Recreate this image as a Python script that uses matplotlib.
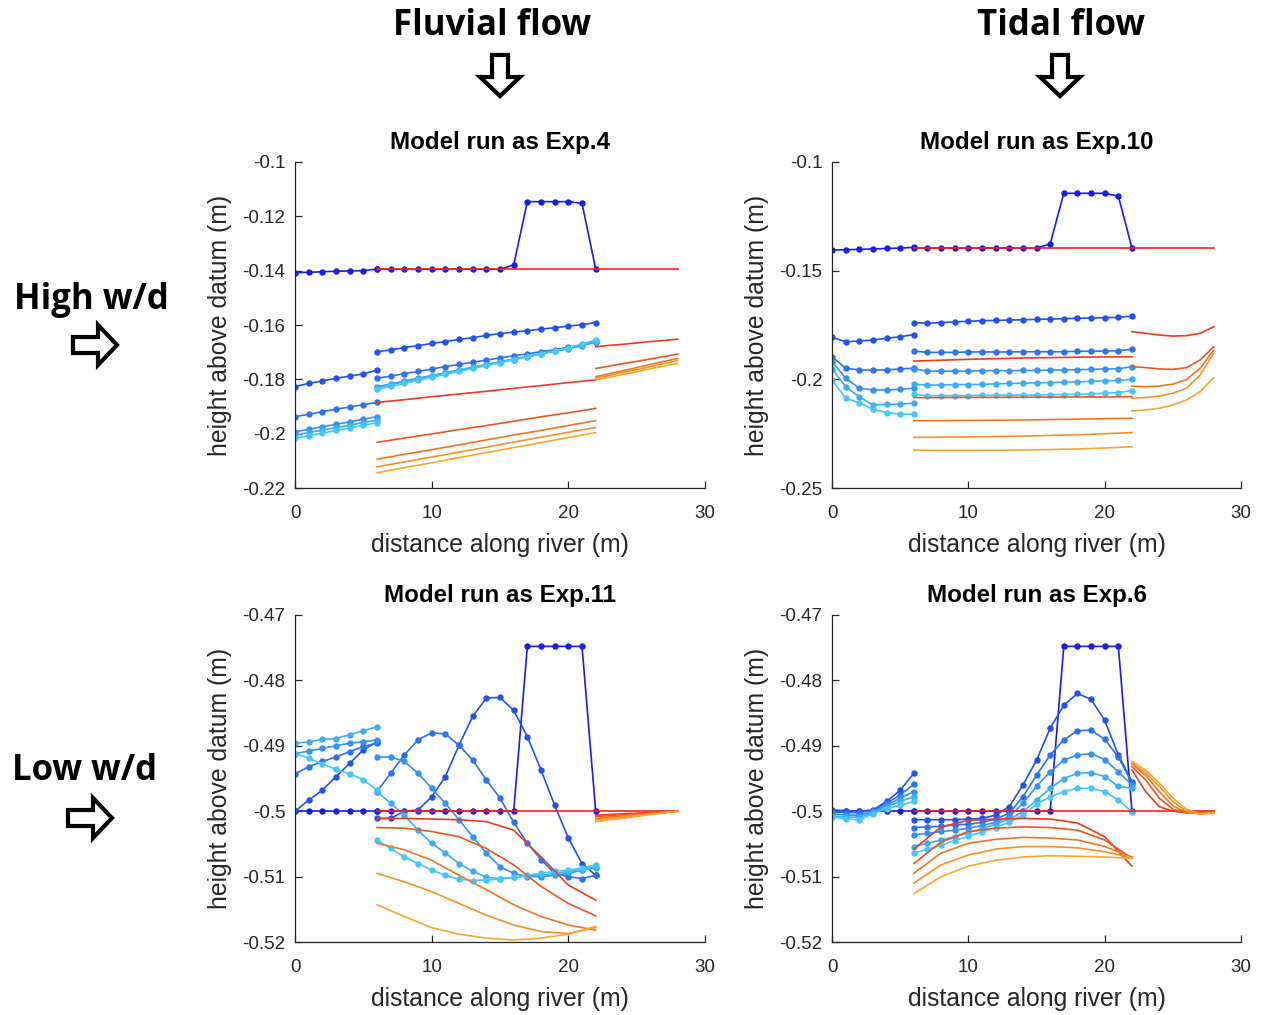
import matplotlib
matplotlib.use("Agg")
import matplotlib.pyplot as plt
from matplotlib.patches import FancyArrow

# ---------------- x grids (m) ----------------
x_up = [0, 1, 2, 3, 4, 5, 6]
x_mid = [6, 7, 8, 9, 10, 11, 12, 13, 14, 15, 16, 17, 18, 19, 20, 21, 22]
x_mid_red = [6, 8, 10, 12, 14, 16, 18, 20, 22]
x_down = [22, 23, 24, 25, 26, 27, 28]

# ---------------- Model run as Exp.4 (top-left) ----------------
tl_blue_up = [
    [-0.1407, -0.1406, -0.1404, -0.1402, -0.1401, -0.1400, -0.1394],
    [-0.1827, -0.1815, -0.1806, -0.1796, -0.1788, -0.1780, -0.1766],
    [-0.1937, -0.1929, -0.1919, -0.1910, -0.1902, -0.1893, -0.1885],
    [-0.1993, -0.1984, -0.1974, -0.1966, -0.1956, -0.1947, -0.1937],
    [-0.2005, -0.1996, -0.1987, -0.1978, -0.1969, -0.1959, -0.1950],
    [-0.2017, -0.2007, -0.1998, -0.1988, -0.1979, -0.1969, -0.1960],
]
tl_blue_mid = [
    [-0.1395, -0.1395, -0.1395, -0.1395, -0.1395, -0.1395, -0.1395, -0.1395, -0.1395, -0.1395,
     -0.1379, -0.1146, -0.1146, -0.1146, -0.1146, -0.1152, -0.1394],
    [-0.1698, -0.1692, -0.1683, -0.1676, -0.1668, -0.1661, -0.1653, -0.1647, -0.1638, -0.1632,
     -0.1626, -0.1621, -0.1615, -0.1610, -0.1604, -0.1599, -0.1591],
    [-0.1796, -0.1788, -0.1779, -0.1771, -0.1762, -0.1753, -0.1745, -0.1737, -0.1729, -0.1721,
     -0.1713, -0.1706, -0.1698, -0.1691, -0.1682, -0.1674, -0.1661],
    [-0.1827, -0.1817, -0.1806, -0.1796, -0.1786, -0.1776, -0.1766, -0.1756, -0.1746, -0.1737,
     -0.1727, -0.1717, -0.1707, -0.1697, -0.1687, -0.1676, -0.1663],
    [-0.1831, -0.1820, -0.1809, -0.1798, -0.1788, -0.1777, -0.1767, -0.1756, -0.1746, -0.1735,
     -0.1725, -0.1715, -0.1705, -0.1695, -0.1685, -0.1673, -0.1660],
    [-0.1837, -0.1826, -0.1815, -0.1804, -0.1793, -0.1782, -0.1771, -0.1760, -0.1749, -0.1739,
     -0.1728, -0.1717, -0.1706, -0.1695, -0.1684, -0.1670, -0.1655],
]
tl_red_mid = [
    [-0.1395, -0.1395, -0.1395, -0.1395, -0.1395, -0.1395, -0.1395, -0.1395, -0.1395],
    [-0.1885, -0.1875, -0.1864, -0.1854, -0.1844, -0.1833, -0.1823, -0.1812, -0.1802],
    [-0.2032, -0.2016, -0.2001, -0.1985, -0.1970, -0.1954, -0.1938, -0.1923, -0.1907],
    [-0.2094, -0.2076, -0.2059, -0.2041, -0.2023, -0.2005, -0.1988, -0.1970, -0.1952],
    [-0.2122, -0.2104, -0.2086, -0.2068, -0.2050, -0.2031, -0.2013, -0.1995, -0.1977],
    [-0.2144, -0.2125, -0.2107, -0.2088, -0.2070, -0.2051, -0.2033, -0.2014, -0.1996],
]
tl_red_down = [
    [-0.1395, -0.1395, -0.1395, -0.1395, -0.1395, -0.1395, -0.1395],
    [-0.1680, -0.1675, -0.1671, -0.1666, -0.1661, -0.1657, -0.1652],
    [-0.1760, -0.1751, -0.1742, -0.1734, -0.1725, -0.1716, -0.1707],
    [-0.1790, -0.1779, -0.1768, -0.1757, -0.1745, -0.1734, -0.1723],
    [-0.1796, -0.1785, -0.1774, -0.1764, -0.1753, -0.1742, -0.1731],
    [-0.1802, -0.1792, -0.1782, -0.1772, -0.1761, -0.1751, -0.1741],
]

# ---------------- Model run as Exp.10 (top-right) ----------------
tr_blue_up = [
    [-0.1405, -0.1404, -0.1402, -0.1400, -0.1398, -0.1396, -0.1393],
    [-0.1807, -0.1827, -0.1824, -0.1819, -0.1811, -0.1804, -0.1794],
    [-0.1896, -0.1949, -0.1957, -0.1957, -0.1957, -0.1952, -0.1949],
    [-0.1919, -0.1995, -0.2041, -0.2049, -0.2049, -0.2046, -0.2041],
    [-0.1952, -0.2034, -0.2080, -0.2118, -0.2115, -0.2114, -0.2110],
    [-0.2003, -0.2087, -0.2107, -0.2138, -0.2153, -0.2160, -0.2160],
]
tr_blue_mid = [
    [-0.1396, -0.1396, -0.1396, -0.1396, -0.1396, -0.1396, -0.1396, -0.1396, -0.1396, -0.1396,
     -0.1377, -0.1144, -0.1144, -0.1144, -0.1144, -0.1157, -0.1396],
    [-0.1739, -0.1742, -0.1739, -0.1736, -0.1733, -0.1730, -0.1729, -0.1727, -0.1726, -0.1724,
     -0.1723, -0.1721, -0.1719, -0.1718, -0.1716, -0.1715, -0.1709],
    [-0.1870, -0.1876, -0.1876, -0.1876, -0.1874, -0.1874, -0.1874, -0.1874, -0.1873, -0.1873,
     -0.1873, -0.1873, -0.1871, -0.1871, -0.1870, -0.1868, -0.1862],
    [-0.1952, -0.1962, -0.1962, -0.1962, -0.1962, -0.1960, -0.1960, -0.1960, -0.1959, -0.1959,
     -0.1957, -0.1957, -0.1956, -0.1954, -0.1952, -0.1951, -0.1942],
    [-0.2023, -0.2026, -0.2026, -0.2024, -0.2024, -0.2023, -0.2021, -0.2019, -0.2018, -0.2016,
     -0.2015, -0.2013, -0.2012, -0.2009, -0.2007, -0.2005, -0.2000],
    [-0.2069, -0.2075, -0.2075, -0.2075, -0.2075, -0.2073, -0.2073, -0.2073, -0.2072, -0.2072,
     -0.2070, -0.2070, -0.2069, -0.2067, -0.2064, -0.2061, -0.2052],
]
tr_red_mid = [
    [-0.1396, -0.1396, -0.1396, -0.1396, -0.1396, -0.1396, -0.1396, -0.1396, -0.1396],
    [-0.1916, -0.1912, -0.1908, -0.1905, -0.1902, -0.1900, -0.1898, -0.1897, -0.1896],
    [-0.2084, -0.2084, -0.2083, -0.2083, -0.2082, -0.2082, -0.2081, -0.2081, -0.2080],
    [-0.2190, -0.2190, -0.2189, -0.2188, -0.2187, -0.2185, -0.2183, -0.2181, -0.2179],
    [-0.2267, -0.2266, -0.2265, -0.2263, -0.2261, -0.2258, -0.2255, -0.2250, -0.2245],
    [-0.2325, -0.2327, -0.2327, -0.2326, -0.2325, -0.2323, -0.2320, -0.2316, -0.2310],
]
tr_red_down = [
    [-0.1396, -0.1396, -0.1396, -0.1396, -0.1396, -0.1396, -0.1396],
    [-0.1781, -0.1788, -0.1796, -0.1801, -0.1799, -0.1788, -0.1758],
    [-0.1942, -0.1946, -0.1952, -0.1954, -0.1946, -0.1911, -0.1850],
    [-0.2031, -0.2034, -0.2031, -0.2022, -0.2001, -0.1949, -0.1865],
    [-0.2087, -0.2084, -0.2077, -0.2064, -0.2041, -0.1980, -0.1880],
    [-0.2146, -0.2141, -0.2133, -0.2118, -0.2095, -0.2057, -0.1992],
]

# ---------------- Model run as Exp.11 (bottom-left) ----------------
bl_blue_up = [
    [-0.5000, -0.5000, -0.5000, -0.5000, -0.5000, -0.5000, -0.5000],
    [-0.5000, -0.4983, -0.4968, -0.4947, -0.4927, -0.4906, -0.4894],
    [-0.4943, -0.4932, -0.4924, -0.4917, -0.4909, -0.4901, -0.4896],
    [-0.4912, -0.4908, -0.4904, -0.4900, -0.4896, -0.4894, -0.4891],
    [-0.4896, -0.4894, -0.4890, -0.4889, -0.4883, -0.4877, -0.4871],
    [-0.4912, -0.4919, -0.4928, -0.4936, -0.4943, -0.4952, -0.4968],
]
bl_blue_mid = [
    [-0.5000, -0.5000, -0.5000, -0.5000, -0.5000, -0.5000, -0.5000, -0.5000, -0.5000, -0.5000,
     -0.5000, -0.4748, -0.4748, -0.4748, -0.4748, -0.4748, -0.5000],
    [-0.5011, -0.5011, -0.5000, -0.4998, -0.4978, -0.4947, -0.4899, -0.4855, -0.4827, -0.4826,
     -0.4846, -0.4886, -0.4937, -0.4991, -0.5041, -0.5080, -0.5098],
    [-0.4970, -0.4942, -0.4914, -0.4891, -0.4880, -0.4882, -0.4899, -0.4922, -0.4952, -0.4980,
     -0.5017, -0.5049, -0.5074, -0.5095, -0.5100, -0.5103, -0.5098],
    [-0.4917, -0.4917, -0.4924, -0.4942, -0.4965, -0.4988, -0.5013, -0.5039, -0.5064, -0.5085,
     -0.5095, -0.5100, -0.5100, -0.5098, -0.5095, -0.5090, -0.5085],
    [-0.4970, -0.4988, -0.5006, -0.5029, -0.5049, -0.5064, -0.5080, -0.5092, -0.5101, -0.5103,
     -0.5101, -0.5099, -0.5098, -0.5095, -0.5092, -0.5090, -0.5087],
    [-0.5044, -0.5057, -0.5070, -0.5080, -0.5090, -0.5098, -0.5104, -0.5106, -0.5105, -0.5104,
     -0.5101, -0.5098, -0.5095, -0.5092, -0.5090, -0.5087, -0.5082],
]
bl_red_mid = [
    [-0.5000, -0.5000, -0.5000, -0.5000, -0.5000, -0.5000, -0.5000, -0.5000, -0.5000],
    [-0.5011, -0.5011, -0.5012, -0.5013, -0.5016, -0.5029, -0.5070, -0.5113, -0.5136],
    [-0.5025, -0.5026, -0.5031, -0.5039, -0.5057, -0.5082, -0.5115, -0.5141, -0.5160],
    [-0.5049, -0.5059, -0.5075, -0.5098, -0.5120, -0.5143, -0.5161, -0.5174, -0.5182],
    [-0.5095, -0.5108, -0.5123, -0.5141, -0.5159, -0.5174, -0.5184, -0.5187, -0.5178],
    [-0.5143, -0.5161, -0.5178, -0.5188, -0.5194, -0.5197, -0.5194, -0.5188, -0.5176],
]
bl_red_down = [
    [-0.5000, -0.5000, -0.5000, -0.5000, -0.5000, -0.5000, -0.5000],
    [-0.5006, -0.5005, -0.5004, -0.5003, -0.5002, -0.5001, -0.5000],
    [-0.5008, -0.5007, -0.5005, -0.5004, -0.5003, -0.5001, -0.5000],
    [-0.5011, -0.5009, -0.5007, -0.5006, -0.5004, -0.5002, -0.5000],
    [-0.5013, -0.5011, -0.5009, -0.5007, -0.5004, -0.5002, -0.5000],
    [-0.5016, -0.5013, -0.5011, -0.5008, -0.5005, -0.5003, -0.5000],
]

# ---------------- Model run as Exp.6 (bottom-right) ----------------
br_blue_up = [
    [-0.5000, -0.5000, -0.5000, -0.5000, -0.5000, -0.5000, -0.5000],
    [-0.4998, -0.4999, -0.5000, -0.4998, -0.4985, -0.4968, -0.4942],
    [-0.5001, -0.5002, -0.5002, -0.4999, -0.4988, -0.4975, -0.4959],
    [-0.5004, -0.5006, -0.5006, -0.5001, -0.4991, -0.4980, -0.4970],
    [-0.5007, -0.5009, -0.5009, -0.5003, -0.4993, -0.4985, -0.4978],
    [-0.5009, -0.5012, -0.5013, -0.5004, -0.4996, -0.4991, -0.4985],
]
br_blue_mid = [
    [-0.5000, -0.5000, -0.5000, -0.5000, -0.5000, -0.5000, -0.5000, -0.5000, -0.5000, -0.5000,
     -0.5000, -0.4748, -0.4748, -0.4748, -0.4748, -0.4748, -0.5000],
    [-0.5013, -0.5013, -0.5013, -0.5013, -0.5012, -0.5011, -0.5006, -0.4993, -0.4960, -0.4922,
     -0.4873, -0.4838, -0.4820, -0.4829, -0.4861, -0.4914, -0.4955],
    [-0.5025, -0.5024, -0.5023, -0.5021, -0.5020, -0.5017, -0.5012, -0.5003, -0.4978, -0.4945,
     -0.4914, -0.4891, -0.4877, -0.4876, -0.4890, -0.4917, -0.4957],
    [-0.5036, -0.5034, -0.5031, -0.5029, -0.5026, -0.5022, -0.5017, -0.5008, -0.4988, -0.4962,
     -0.4940, -0.4922, -0.4914, -0.4912, -0.4921, -0.4940, -0.4960],
    [-0.5054, -0.5049, -0.5044, -0.5039, -0.5033, -0.5027, -0.5020, -0.5012, -0.5001, -0.4983,
     -0.4965, -0.4950, -0.4942, -0.4941, -0.4947, -0.4962, -0.4965],
    [-0.5064, -0.5058, -0.5052, -0.5045, -0.5038, -0.5032, -0.5025, -0.5017, -0.5006, -0.4989,
     -0.4978, -0.4970, -0.4965, -0.4965, -0.4970, -0.4983, -0.5001],
]
br_red_mid = [
    [-0.5000, -0.5000, -0.5000, -0.5000, -0.5000, -0.5000, -0.5000, -0.5000, -0.5000],
    [-0.5058, -0.5024, -0.5014, -0.5012, -0.5011, -0.5012, -0.5018, -0.5039, -0.5084],
    [-0.5080, -0.5047, -0.5031, -0.5026, -0.5024, -0.5025, -0.5029, -0.5044, -0.5072],
    [-0.5095, -0.5064, -0.5049, -0.5043, -0.5040, -0.5041, -0.5044, -0.5054, -0.5070],
    [-0.5110, -0.5082, -0.5067, -0.5058, -0.5054, -0.5054, -0.5056, -0.5062, -0.5071],
    [-0.5126, -0.5100, -0.5084, -0.5075, -0.5070, -0.5068, -0.5069, -0.5070, -0.5072],
]
br_red_down = [
    [-0.5000, -0.5000, -0.5000, -0.5000, -0.5000, -0.5000, -0.5000],
    [-0.4937, -0.4970, -0.4993, -0.5000, -0.5002, -0.5001, -0.5000],
    [-0.4932, -0.4952, -0.4980, -0.4997, -0.5003, -0.5003, -0.5001],
    [-0.4928, -0.4945, -0.4970, -0.4992, -0.5002, -0.5004, -0.5002],
    [-0.4926, -0.4941, -0.4962, -0.4985, -0.5000, -0.5004, -0.5002],
    [-0.4924, -0.4937, -0.4957, -0.4980, -0.4997, -0.5004, -0.5003],
]

# ---------------- axes ticks / labels ----------------
titles = ["Model run as Exp.4", "Model run as Exp.10", "Model run as Exp.11", "Model run as Exp.6"]
x_ticks = [0, 10, 20, 30]
x_ticklabels = ["0", "10", "20", "30"]
tl_yticks = [-0.22, -0.2, -0.18, -0.16, -0.14, -0.12, -0.1]
tl_yticklabels = ["-0.22", "-0.2", "-0.18", "-0.16", "-0.14", "-0.12", "-0.1"]
tr_yticks = [-0.25, -0.2, -0.15, -0.1]
tr_yticklabels = ["-0.25", "-0.2", "-0.15", "-0.1"]
b_yticks = [-0.52, -0.51, -0.5, -0.49, -0.48, -0.47]
b_yticklabels = ["-0.52", "-0.51", "-0.5", "-0.49", "-0.48", "-0.47"]

blue_colors = ["#1c1ce6", "#2251ee", "#2b72f0", "#3591f3", "#3caef6", "#45c8f7"]
red_colors = ["#f81f1f", "#ee3a1e", "#ee561f", "#f27622", "#f59226", "#f7a82c"]

TXT = "#262626"
plt.rcParams["font.family"] = ["Liberation Sans", "DejaVu Sans"]

fig = plt.figure(figsize=(12.63, 10.15), dpi=100)

panels = [
    dict(pos=[0.2336, 0.5192, 0.3246, 0.3212], ylim=(-0.22, -0.1), yt=tl_yticks, ytl=tl_yticklabels,
         bu=tl_blue_up, bm=tl_blue_mid, rm=tl_red_mid, rd=tl_red_down, title=titles[0]),
    dict(pos=[0.6588, 0.5192, 0.3238, 0.3212], ylim=(-0.25, -0.1), yt=tr_yticks, ytl=tr_yticklabels,
         bu=tr_blue_up, bm=tr_blue_mid, rm=tr_red_mid, rd=tr_red_down, title=titles[1]),
    dict(pos=[0.2336, 0.0719, 0.3246, 0.3222], ylim=(-0.52, -0.47), yt=b_yticks, ytl=b_yticklabels,
         bu=bl_blue_up, bm=bl_blue_mid, rm=bl_red_mid, rd=bl_red_down, title=titles[2]),
    dict(pos=[0.6588, 0.0719, 0.3238, 0.3222], ylim=(-0.52, -0.47), yt=b_yticks, ytl=b_yticklabels,
         bu=br_blue_up, bm=br_blue_mid, rm=br_red_mid, rd=br_red_down, title=titles[3]),
]

for p in panels:
    ax = fig.add_axes(p["pos"])
    for i in range(6):
        c = blue_colors[i]
        ax.plot(x_up, p["bu"][i], color=c, lw=1.2, marker="o", ms=3.6, mec=c, mfc=c, zorder=2)
        ax.plot(x_mid, p["bm"][i], color=c, lw=1.2, marker="o", ms=3.6, mec=c, mfc=c, zorder=2)
    for i in range(6):
        c = red_colors[i]
        ax.plot(x_mid_red, p["rm"][i], color=c, lw=1.2, zorder=3)
        ax.plot(x_down, p["rd"][i], color=c, lw=1.2, zorder=3)
    ax.set_xlim(0, 30)
    ax.set_ylim(*p["ylim"])
    ax.set_xticks(x_ticks)
    ax.set_xticklabels(x_ticklabels)
    ax.set_yticks(p["yt"])
    ax.set_yticklabels(p["ytl"])
    for s in ["top", "right"]:
        ax.spines[s].set_visible(False)
    for s in ["left", "bottom"]:
        ax.spines[s].set_color(TXT)
        ax.spines[s].set_linewidth(0.9)
    ax.tick_params(direction="in", length=5, width=0.9, colors=TXT, labelsize=13.5)
    ax.tick_params(axis="x", pad=12)
    ax.tick_params(axis="y", pad=7)
    ax.set_xlabel("distance along river (m)", fontsize=17.8, color=TXT, labelpad=8)
    ax.set_ylabel("height above datum (m)", fontsize=17.8, color=TXT, labelpad=7)
    ax.set_title(p["title"], fontsize=17.4, fontweight="bold", color="black", pad=9)

# ---------------- row / column annotations ----------------
ann_font = ["Open Sans", "DejaVu Sans"]
fig.text(0.3896, 0.9744, "Fluvial flow", ha="center", va="center", fontsize=25,
         fontweight="bold", family=ann_font)
fig.text(0.8401, 0.9744, "Tidal flow", ha="center", va="center", fontsize=25,
         fontweight="bold", family=ann_font)
fig.text(0.0721, 0.7044, "High w/d", ha="center", va="center", fontsize=25,
         fontweight="bold", family=ann_font)
fig.text(0.0673, 0.2403, "Low w/d", ha="center", va="center", fontsize=25,
         fontweight="bold", family=ann_font)

arrow_kw = dict(width=0.16, head_width=0.40, head_length=0.19, length_includes_head=True,
                fill=False, ec="black", lw=3, transform=fig.dpi_scale_trans, joinstyle="miter")
fig.patches.append(FancyArrow(5.00, 9.60, 0, -0.41, **arrow_kw))
fig.patches.append(FancyArrow(10.60, 9.60, 0, -0.41, **arrow_kw))
fig.patches.append(FancyArrow(0.73, 6.70, 0.44, 0, **arrow_kw))
fig.patches.append(FancyArrow(0.68, 1.97, 0.44, 0, **arrow_kw))

fig.savefig("out.png", dpi=100)
